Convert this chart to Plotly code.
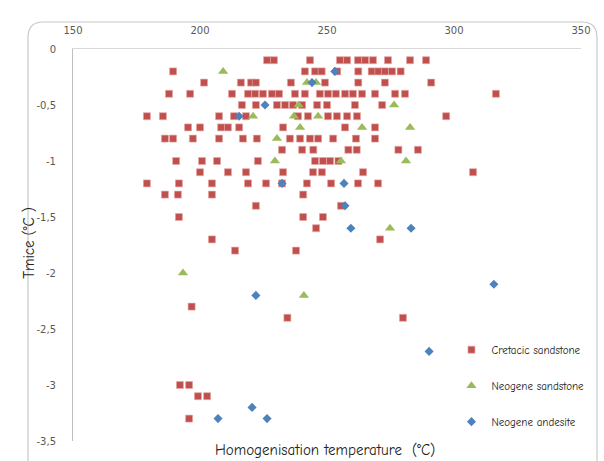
import plotly.graph_objects as go

# ---- Data ----
cret_x = [226.4, 229.1, 243.3, 255.1, 257.9, 262.2, 265.0, 268.1, 274.0, 282.7, 289.0,
          189.4, 241.3, 245.3, 247.9, 254.0, 262.3, 267.6, 270.2, 272.8, 275.6, 279.0,
          201.6, 216.1, 220.1, 222.0, 235.8, 249.2, 262.3, 272.8, 291.0,
          187.8, 196.1, 212.6, 218.9, 221.7, 224.8, 228.3, 231.1, 237.4, 241.3, 247.2, 250.4,
          253.5, 257.1, 260.2, 263.8, 268.9, 276.8, 280.7, 316.5,
          216.5, 222.0, 230.3, 233.5, 236.6, 240.2, 246.1, 250.0, 261.0, 271.7,
          179.1, 185.4, 207.5, 213.4, 218.1, 238.6, 242.5, 250.4, 253.9, 257.9, 261.8, 296.9,
          195.3, 200.0, 208.3, 211.0, 215.4, 232.7, 257.1, 268.9,
          186.2, 189.4, 197.2, 207.5, 216.9, 222.4, 235.4, 239.4, 243.3, 246.5, 252.4, 261.4, 268.9,
          232.3, 240.2, 244.6, 258.4, 261.7, 278.1, 285.8,
          190.6, 200.8, 206.7, 222.8, 245.3, 248.4, 251.2, 254.5,
          200.0, 211.0, 218.1, 232.7, 244.5, 248.0, 264.2, 307.5,
          179.1, 191.7, 204.7, 218.9, 226.0, 232.3, 242.1, 251.6, 262.2, 270.1,
          186.2, 191.3, 204.7, 240.6,
          222.0, 255.5,
          191.7, 240.6, 248.4,
          245.7,
          204.7, 270.9,
          213.8, 237.8,
          196.7,
          234.4, 279.9,
          192.1, 195.7,
          199.2, 202.8,
          195.7]
cret_y = [-0.1] * 11 + [-0.2] * 11 + [-0.3] * 9 + [-0.4] * 20 + [-0.5] * 10 + [-0.6] * 12 \
    + [-0.7] * 8 + [-0.8] * 13 + [-0.9] * 7 + [-1.0] * 8 + [-1.1] * 8 + [-1.2] * 10 \
    + [-1.3] * 4 + [-1.4] * 2 + [-1.5] * 3 + [-1.6] * 1 + [-1.7] * 2 + [-1.8] * 2 \
    + [-2.3] * 1 + [-2.4] * 2 + [-3.0] * 2 + [-3.1] * 2 + [-3.3] * 1

neo_sand_x = [209.1, 242.1, 245.7, 238.8, 276.4, 220.9, 237.0, 246.5, 239.4, 263.8, 282.7,
              230.3, 229.5, 255.5, 281.1, 274.8, 193.3, 240.9]
neo_sand_y = [-0.2, -0.3, -0.3, -0.5, -0.5, -0.6, -0.6, -0.6, -0.7, -0.7, -0.7,
              -0.8, -1.0, -1.0, -1.0, -1.6, -2.0, -2.2]

neo_and_x = [253.1, 244.1, 225.6, 215.4, 232.3, 256.7, 257.1, 259.4, 283.1, 315.7,
             222.0, 290.2, 220.5, 207.1, 226.4]
neo_and_y = [-0.2, -0.3, -0.5, -0.6, -1.2, -1.2, -1.4, -1.6, -1.6, -2.1,
             -2.2, -2.7, -3.2, -3.3, -3.3]

series_names = ["Cretacic sandstone", "Neogene sandstone", "Neogene andesite"]
x_title = "Homogenisation temperature  (°C)"
y_title = "Tmice (°C )"
y_tick_vals = [0, -0.5, -1, -1.5, -2, -2.5, -3, -3.5]
y_tick_text = ["0", "-0,5", "-1", "-1,5", "-2", "-2,5", "-3", "-3,5"]
x_tick_vals = [150, 200, 250, 300, 350]

# ---- Figure ----
comic = "Comic Neue, Comic Sans MS, DejaVu Sans, sans-serif"
fig = go.Figure()
fig.add_trace(go.Scatter(x=cret_x, y=cret_y, mode="markers", name=series_names[0],
                         legendgroup="a",
                         marker=dict(symbol="square", size=7, color="#C0504D",
                                     line=dict(width=0.6, color="#E8A6A4"))))
fig.add_trace(go.Scatter(x=neo_sand_x, y=neo_sand_y, mode="markers", name=series_names[1],
                         legendgroup="b",
                         marker=dict(symbol="triangle-up", size=9, color="#9BBB59")))
fig.add_trace(go.Scatter(x=neo_and_x, y=neo_and_y, mode="markers", name=series_names[2],
                         legendgroup="c",
                         marker=dict(symbol="diamond", size=7, color="#4F81BD")))

tickfont = dict(family="DejaVu Sans, Verdana, sans-serif", size=10, color="#595959")
fig.update_xaxes(range=[150, 350], tickvals=x_tick_vals, side="top", showgrid=False,
                 zeroline=False, showline=True, linecolor="#D9D9D9", linewidth=1, ticks="",
                 tickfont=tickfont, ticklabelstandoff=10)
fig.update_yaxes(range=[-3.5, 0], tickvals=y_tick_vals, ticktext=y_tick_text,
                 showgrid=False, zeroline=False,
                 showline=True, linecolor="#BFBFBF", linewidth=1, ticks="",
                 tickfont=tickfont, ticklabelstandoff=14)

# outer rounded chart border
x0, x1, yt, yb = -0.0886, 1.0315, 1.0689, -0.08
rx, ry = 0.03, 0.04
path = (f"M {x0},{yb} L {x0},{yt-ry} Q {x0},{yt} {x0+rx},{yt} "
        f"L {x1-rx},{yt} Q {x1},{yt} {x1},{yt-ry} L {x1},{yb}")
fig.add_shape(type="path", path=path, xref="paper", yref="paper",
              line=dict(color="#C8C8C8", width=1.2), layer="below")

fig.add_annotation(text=x_title, xref="paper", yref="paper", x=0.496, y=-0.023,
                   showarrow=False, font=dict(family=comic, size=15, color="#222222"),
                   xanchor="center", yanchor="middle")
fig.add_annotation(text=y_title, xref="paper", yref="paper", x=-0.087, y=0.505,
                   textangle=-90, showarrow=False, xanchor="center", yanchor="middle",
                   font=dict(family=comic, size=15, color="#222222"))

fig.update_layout(
    width=604, height=461,
    margin=dict(l=73, r=23, t=49, b=20),
    paper_bgcolor="white", plot_bgcolor="white",
    separators=", ",
    showlegend=True,
    legend=dict(x=0.745, y=0.27, xanchor="left", yanchor="top",
                traceorder="grouped", tracegroupgap=17, itemwidth=30,
                font=dict(family=comic, size=11, color="#222222"),
                bgcolor="rgba(0,0,0,0)"),
)

fig.write_html("out.html", config={"displayModeBar": False},
               post_script="document.body.style.margin='0';document.body.style.padding='0';")
